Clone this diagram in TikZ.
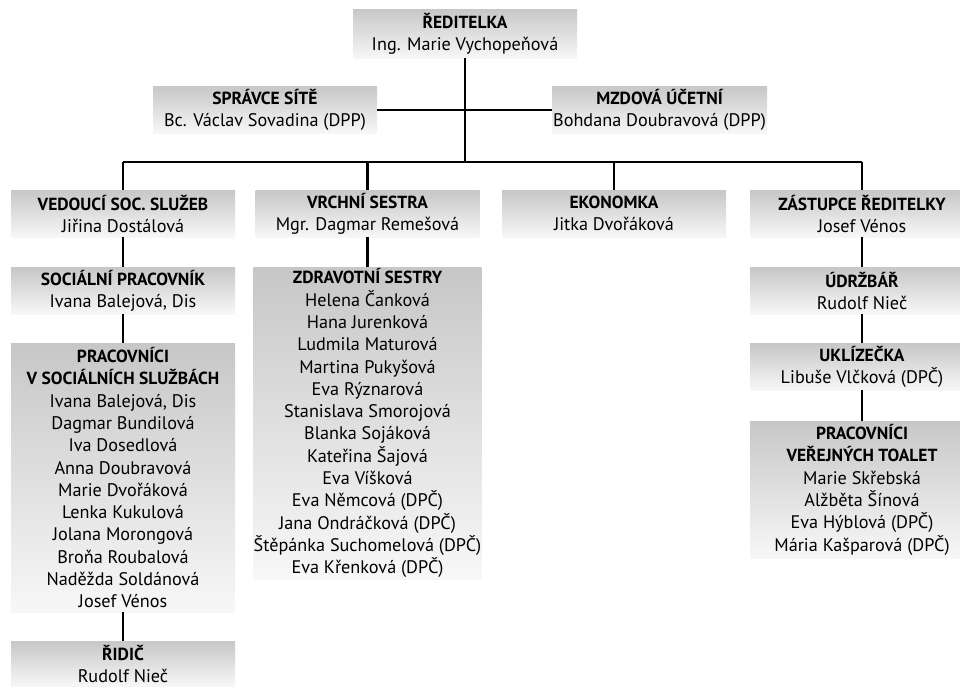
\documentclass[tikz,border=0pt]{standalone}
\usepackage{fontspec}
\setmainfont{PT Sans}
\usetikzlibrary{positioning}
\newcommand\boxtitle[1]{{\fontsize{17.5}{22.3}\selectfont\bfseries #1}}
\tikzset{
  box/.style={anchor=north, inner sep=0pt, minimum width=224pt, align=center,
    top color=black!22, bottom color=black!3, draw=none,
    font=\fontsize{18.2}{22.3}\selectfont},
  link/.style={draw=black, line width=2.2pt}
}
\begin{document}
\begin{tikzpicture}[x=1pt,y=1pt]
\useasboundingbox (0,0) rectangle (960,-686);
\begin{scope}
\clip (0,0) rectangle (960,-686);
% level 0
\node[box, minimum height=49pt] (red) at (465,-9) {\boxtitle{ŘEDITELKA}\\Ing. Marie Vychopeňová};
\node[box, minimum height=47pt] (spr) at (265,-86) {\boxtitle{SPRÁVCE SÍTĚ}\\Bc. Václav Sovadina (DPP)};
\node[box, minimum height=47pt, minimum width=215pt] (mzd) at (659.5,-86) {\boxtitle{MZDOVÁ ÚČETNÍ}\\Bohdana Doubravová (DPP)};
% level 1
\node[box, minimum height=47pt] (ved) at (123,-190) {\boxtitle{VEDOUCÍ SOC. SLUŽEB}\\Jiřina Dostálová};
\node[box, minimum height=47pt] (vrc) at (367.5,-190) {\boxtitle{VRCHNÍ SESTRA}\\Mgr. Dagmar Remešová};
\node[box, minimum height=47pt] (eko) at (614,-190) {\boxtitle{EKONOMKA}\\Jitka Dvořáková};
\node[box, minimum height=47pt] (zas) at (862,-190) {\boxtitle{ZÁSTUPCE ŘEDITELKY}\\Josef Vénos};
% level 2
\node[box, minimum height=47pt] (soc) at (123,-267) {\boxtitle{SOCIÁLNÍ PRACOVNÍK}\\Ivana Balejová, Dis};
\node[box, minimum height=269pt] (pss) at (123,-343) {\boxtitle{PRACOVNÍCI}\\\boxtitle{V SOCIÁLNÍCH SLUŽBÁCH}\\Ivana Balejová, Dis\\Dagmar Bundilová\\Iva Dosedlová\\Anna Doubravová\\Marie Dvořáková\\Lenka Kukulová\\Jolana Morongová\\Broňa Roubalová\\Naděžda Soldánová\\Josef Vénos};
\node[box, minimum height=45pt] (rid) at (123,-641) {\boxtitle{ŘIDIČ}\\Rudolf Nieč};
\node[box, minimum height=312pt] (zdr) at (367.5,-267) {\boxtitle{ZDRAVOTNÍ SESTRY}\\Helena Čanková\\Hana Jurenková\\Ludmila Maturová\\Martina Pukyšová\\Eva Rýznarová\\Stanislava Smorojová\\Blanka Sojáková\\Kateřina Šajová\\Eva Víšková\\Eva Němcová (DPČ)\\Jana Ondráčková (DPČ)\\Štěpánka Suchomelová (DPČ)\\Eva Křenková (DPČ)};
\node[box, minimum height=47pt] (udr) at (862,-267) {\boxtitle{ÚDRŽBÁŘ}\\Rudolf Nieč};
\node[box, minimum height=47pt] (ukl) at (862,-343) {\boxtitle{UKLÍZEČKA}\\Libuše Vlčková (DPČ)};
\node[box, minimum height=137pt] (toa) at (862,-421) {\boxtitle{PRACOVNÍCI}\\\boxtitle{VEŘEJNÝCH TOALET}\\Marie Skřebská\\Alžběta Šínová\\Eva Hýblová (DPČ)\\Mária Kašparová (DPČ)};
\end{scope}
% connectors
\coordinate (bus) at (red.south |- 0,-162);
\coordinate (busL) at (ved.north |- bus);
\coordinate (busR) at (zas.north |- bus);
\coordinate (mid) at (red.south |- spr.east);
\draw[link] (red.south) -- (bus);
\draw[link] (spr.east) -- (mid);
\draw[link] (mzd.west) -- (mid);
\draw[link] (busL) -- (busR);
\draw[link] (busL) -- (ved.north);
\draw[link] (vrc.north |- bus) -- (vrc.north);
\draw[link] (eko.north |- bus) -- (eko.north);
\draw[link] (busR) -- (zas.north);
\draw[link] (ved.south) -- (soc.north);
\draw[link] (soc.south) -- (pss.north);
\draw[link] (pss.south) -- (rid.north);
\draw[link] (vrc.south) -- (zdr.north);
\draw[link] (zas.south) -- (udr.north);
\draw[link] (udr.south) -- (ukl.north);
\draw[link] (ukl.south) -- (toa.north);
\end{tikzpicture}
\end{document}
